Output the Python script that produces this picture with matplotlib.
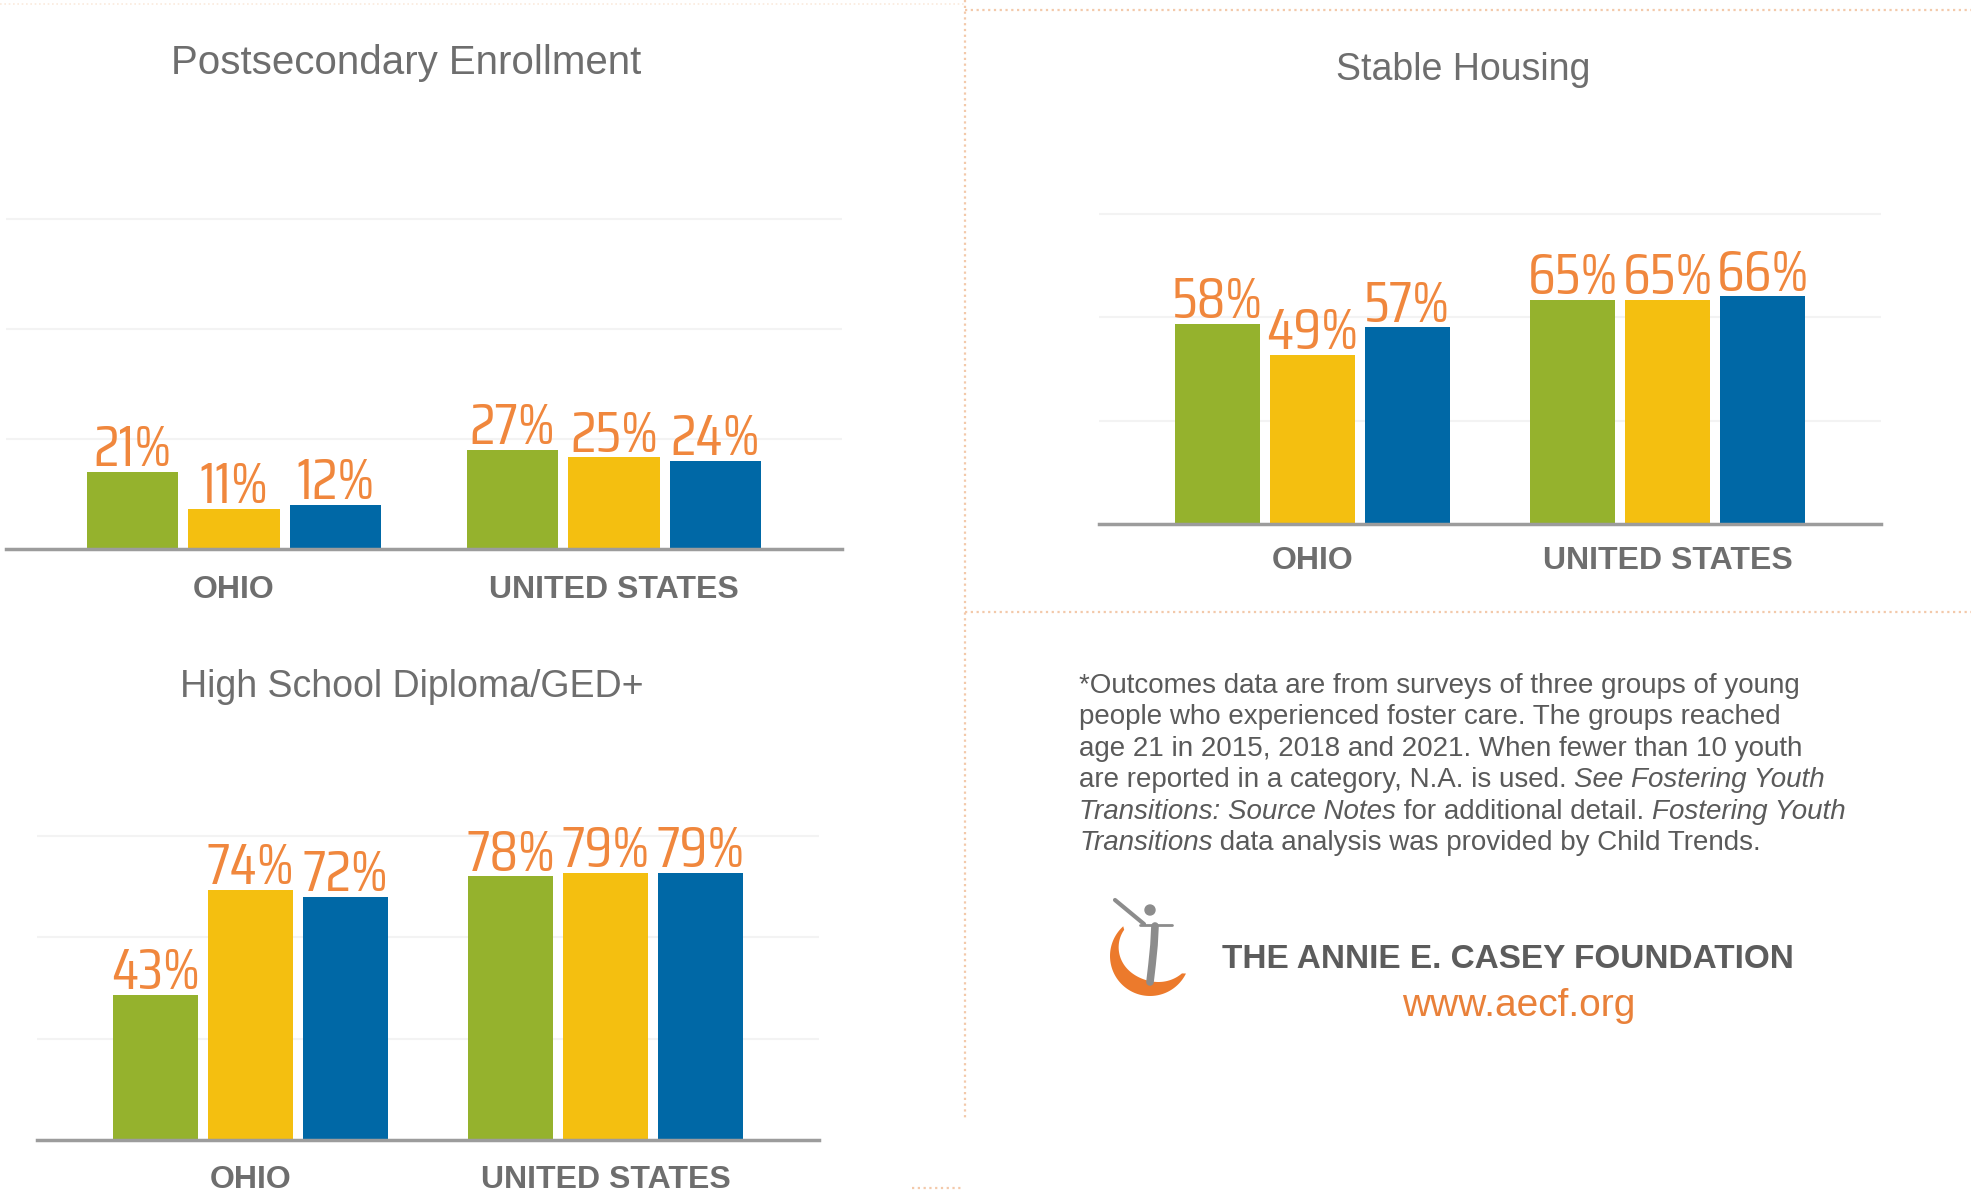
import numpy as np
import matplotlib.pyplot as plt
from matplotlib.lines import Line2D
from matplotlib.patches import Polygon, Circle

W, H, DPI = 1971, 1194, 100

# ---- data -------------------------------------------------------------
groups = ["OHIO", "UNITED STATES"]
cohorts = ["2015", "2018", "2021"]
bar_colors = ["#95b22d", "#f4bf10", "#0068a6"]

postsec_2015 = [21, 27]
postsec_2018 = [11, 25]
postsec_2021 = [12, 24]

housing_2015 = [58, 65]
housing_2018 = [49, 65]
housing_2021 = [57, 66]

diploma_2015 = [43, 78]
diploma_2018 = [74, 79]
diploma_2021 = [72, 79]

footnote_lines = [
    [("*Outcomes data are from surveys of three groups of young", "normal")],
    [("people who experienced foster care. The groups reached", "normal")],
    [("age 21 in 2015, 2018 and 2021. When fewer than 10 youth", "normal")],
    [("are reported in a category, N.A. is used. ", "normal"),
     ("See Fostering Youth", "italic")],
    [("Transitions: Source Notes", "italic"),
     (" for additional detail. ", "normal"),
     ("Fostering Youth", "italic")],
    [("Transitions", "italic"),
     (" data analysis was provided by Child Trends.", "normal")],
]

GRAY = "#6e6e6e"
ORANGE = "#f0873d"
SANS = ["Liberation Sans", "DejaVu Sans"]
NARROW = ["Saira Condensed", "Saira ExtraCondensed", "Roboto Condensed",
          "Liberation Sans", "DejaVu Sans"]

fig = plt.figure(figsize=(W / DPI, H / DPI), dpi=DPI)
fig.patch.set_facecolor("white")


def fx(x):
    return x / W


def fy(y):
    return 1 - y / H


def add_axes_px(left, top, right, bottom):
    return fig.add_axes([fx(left), fy(bottom), (right - left) / W, (bottom - top) / H])


def draw_panel(box, title, title_xy, title_size, series, tick_pad):
    left, top, right, base = box
    ax = add_axes_px(left, top, right, base)
    step, width = 0.267, 0.24
    x = np.arange(len(groups))
    for i, vals in enumerate(series):
        pos = x + (i - 1) * step
        bars = ax.bar(pos, vals, width=width, color=bar_colors[i], zorder=3)
        for b, v in zip(bars, vals):
            ax.annotate(f"{v}%", (b.get_x() + b.get_width() / 2, v),
                        xytext=(0, 4), textcoords="offset points",
                        ha="center", va="baseline", color=ORANGE,
                        fontsize=42, family=NARROW)
    for g in (30, 60, 90):
        ax.axhline(g, color="#f3f3f3", lw=1.5, zorder=1)
    ax.axhline(0, color="#9c9c9c", lw=2.5, zorder=4, clip_on=False)
    ax.set_xlim(-0.6, 1.6)
    ax.set_ylim(0, 100)
    ax.set_yticks([])
    ax.set_xticks(x, groups)
    ax.tick_params(axis="x", length=0, pad=tick_pad)
    for lab in ax.get_xticklabels():
        lab.set_fontweight("bold")
        lab.set_fontsize(23)
        lab.set_color(GRAY)
        lab.set_family(SANS)
    for s in ax.spines.values():
        s.set_visible(False)
    ax.patch.set_alpha(0)
    fig.text(fx(title_xy[0]), fy(title_xy[1]), title, ha="center", va="center",
             fontsize=title_size, color=GRAY, family=SANS)
    return ax


draw_panel((6, 182, 842, 549), "Postsecondary Enrollment", (406, 63), 29,
           [postsec_2015, postsec_2018, postsec_2021], 19)
draw_panel((1099, 179, 1881, 524), "Stable Housing", (1463, 70), 27,
           [housing_2015, housing_2018, housing_2021], 16)
draw_panel((37, 802, 819, 1140), "High School Diploma/GED+", (412, 687), 27,
           [diploma_2015, diploma_2018, diploma_2021], 18)

# ---- dotted separators -----------------------------------------------
dot = dict(color="#f3c9aa", lw=1.6, linestyle=(0, (1, 1.6)))
fig.add_artist(Line2D([fx(965), fx(965)], [fy(0), fy(1120)], **dot))
fig.add_artist(Line2D([fx(965), fx(W)], [fy(612), fy(612)], **dot))
fig.add_artist(Line2D([fx(965), fx(W)], [fy(10), fy(10)], **dot))
fig.add_artist(Line2D([fx(0), fx(965)], [fy(4), fy(4)], color="#fbeadd", lw=1.2,
                      linestyle=(0, (1, 1.6))))
fig.add_artist(Line2D([fx(912), fx(962)], [fy(1188), fy(1188)], **dot))

# ---- footnote with mixed italics ---------------------------------------
renderer = fig.canvas.get_renderer()


def text_width(s, style, size):
    t1 = fig.text(0, 0, "|" + s + "|", style=style, fontsize=size, family=SANS)
    t2 = fig.text(0, 0, "||", style=style, fontsize=size, family=SANS)
    w = t1.get_window_extent(renderer).width - t2.get_window_extent(renderer).width
    t1.remove()
    t2.remove()
    return w


note_size = 20
for k, runs in enumerate(footnote_lines):
    x0 = 1079
    y0 = 686 + k * 31.4
    for s, style in runs:
        fig.text(fx(x0), fy(y0), s, style=style, fontsize=note_size,
                 family=SANS, color="#5a5a5a", va="center", ha="left")
        x0 += text_width(s, style, note_size)

# ---- foundation logo ---------------------------------------------------
lax = add_axes_px(1100, 890, 1200, 1010)
lax.set_xlim(0, 100)
lax.set_ylim(0, 120)
lax.axis("off")
cx, cy, R = 50, 54, 40
t = np.radians(np.linspace(132, 334, 80))
u = np.linspace(0, 1, 80)
thick = 3 + 13 * np.sin(np.pi * u ** 1.2)
thick[0] = thick[-1] = 0
outer = np.c_[cx + R * np.cos(t), cy + R * np.sin(t)]
inner = np.c_[cx + (R - thick) * np.cos(t), cy + (R - thick) * np.sin(t)][::-1]
lax.add_patch(Polygon(np.r_[outer, inner], closed=True, color="#ec7a2c", lw=0))
fig_gray = "#8c8c8c"
lax.add_patch(Circle((50, 100), 5, color=fig_gray, zorder=3))
lax.plot([15, 44], [110, 86], color=fig_gray, lw=3, solid_capstyle="round", zorder=3)
lax.plot([40, 72], [85, 85], color=fig_gray, lw=2, solid_capstyle="round", zorder=3)
lax.plot([55, 54, 52, 50], [84, 65, 45, 28], color=fig_gray, lw=5.5,
         solid_capstyle="round", zorder=3)

fig.text(fx(1508), fy(959), "THE ANNIE E. CASEY FOUNDATION", ha="center",
         va="center", fontsize=24, fontweight="bold", color="#5c5c5c",
         family=SANS)
fig.text(fx(1519), fy(1006), "www.aecf.org", ha="center", va="center",
         fontsize=28, color="#e9813a", family=SANS)

fig.savefig("out.png", dpi=DPI)
